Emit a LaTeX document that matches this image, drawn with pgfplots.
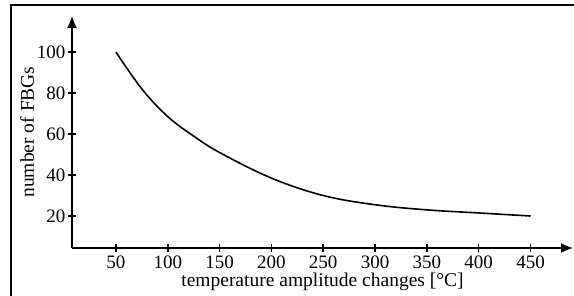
\documentclass[border=0pt]{standalone}
\usepackage{pgfplots}
\pgfplotsset{compat=1.18}
\usepackage{fontspec}
\setmainfont{Liberation Serif}
\usetikzlibrary{arrows.meta}
\begin{document}
\begin{tikzpicture}[x=1pt,y=1pt]
\path[use as bounding box] (-72,-48) rectangle (502,248);
\draw[line width=1.6pt] (-61,-50) -- (-61,243) -- (504,243);
\begin{axis}[
  at={(0,0)}, anchor=south west,
  scale only axis, width=501pt, height=232pt,
  xmin=7.6, xmax=491, ymin=4.4, ymax=117.6,
  axis lines=left,
  axis line style={line width=1.5pt, -{Latex[length=12pt,width=10pt]}},
  xtick={50,100,...,450}, ytick={20,40,...,100},
  tick align=center, major tick length=8pt,
  tick style={line width=1.5pt, black},
  /pgf/number format/assume math mode=true,
  ticklabel style={font=\fontsize{19}{21}\selectfont},
  label style={font=\fontsize{19.5}{21}\selectfont},
  xticklabel style={yshift=0pt},
  yticklabel style={xshift=1pt},
  xlabel={temperature amplitude changes [°C]},
  ylabel={number of FBGs},
  xlabel style={yshift=2pt},
  ylabel style={yshift=-4pt},
  clip=false,
]
\addplot[black, line width=1.6pt, smooth, tension=0.6] coordinates {
(50,100) (75,82) (100,68.5) (125,59) (150,51) (200,38.5) (250,30) (300,25.5) (350,23) (400,21.5) (450,20)
};
\end{axis}
\end{tikzpicture}
\end{document}
